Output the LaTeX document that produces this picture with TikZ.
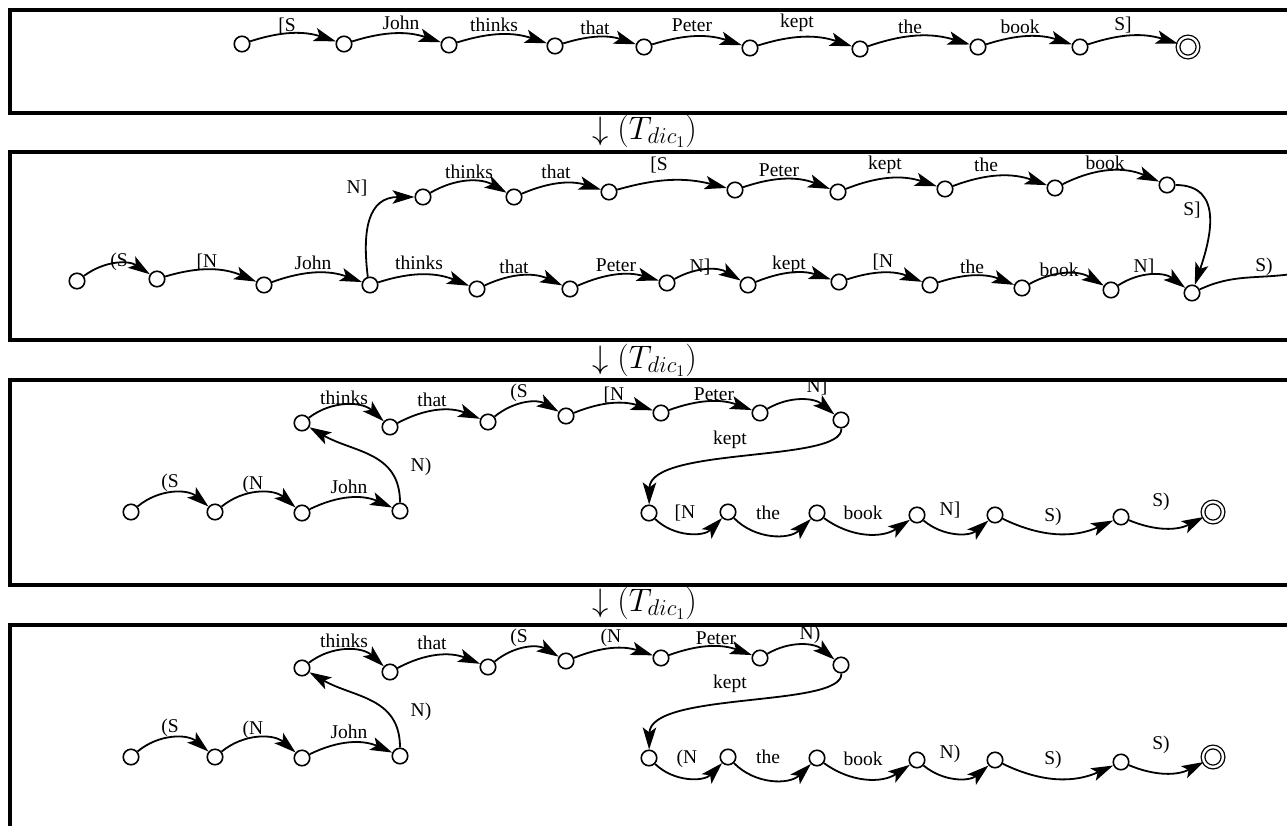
\RequirePackage{fix-cm}
\documentclass[tikz,border=0pt]{standalone}
\usepackage{fontspec}
\setmainfont{Liberation Serif}
\usetikzlibrary{arrows.meta}
\begin{document}
\begin{tikzpicture}[x=1pt,y=1pt,
  nd/.style={circle,draw,line width=1.6pt,minimum size=15.5pt,inner sep=0pt},
  endst/.style={circle,draw,line width=1.3pt,double,double distance=2.4pt,minimum size=20pt,inner sep=0pt},
  ar/.style={line width=1.8pt,-{Stealth[length=22pt,width=13.5pt,inset=5pt]}},
  ln/.style={line width=1.8pt},
  lb/.style={font=\fontsize{19.5}{22}\selectfont,inner sep=0pt},
  panel/.style={line width=3.2pt},
  trlab/.style={font=\fontsize{32.5}{38}\selectfont,inner sep=0pt,anchor=west}
]
\useasboundingbox (0,0) rectangle (1287,-825);
\clip (0,0) rectangle (1287,-825);

% ---------- frames ----------
\draw[panel] (10,-10) rectangle (1300,-113);
\draw[panel] (10,-152) rectangle (1300,-340);
\draw[panel] (10,-380) rectangle (1300,-585);
\draw[panel] (10,-625) rectangle (1300,-860);

% ---------- transformation steps ----------
\node[trlab] (s1) at (592,-131) {$\downarrow (T_{dic_1})$};
\node[trlab] (s2) at (592,-360) {$\downarrow (T_{dic_1})$};
\node[trlab] (s3) at (592,-603) {$\downarrow (T_{dic_1})$};

% ---------- automaton 1 ----------
\node[nd] (a1) at (242,-44) {};
\node[nd] (a2) at (344,-44) {};
\node[nd] (a3) at (449,-45) {};
\node[nd] (a4) at (555,-46) {};
\node[nd] (a5) at (644,-47) {};
\node[nd] (a6) at (750,-48) {};
\node[nd] (a7) at (860,-49) {};
\node[nd] (a8) at (978,-47) {};
\node[nd] (a9) at (1080,-47) {};
\node[endst] (a10) at (1188,-47) {};
\draw[ar] (a1) to[bend left=18] (a2);
\draw[ar] (a2) to[bend left=18] (a3);
\draw[ar] (a3) to[bend left=18] (a4);
\draw[ar] (a4) to[bend left=18] (a5);
\draw[ar] (a5) to[bend left=18] (a6);
\draw[ar] (a6) to[bend left=18] (a7);
\draw[ar] (a7) to[bend left=18] (a8);
\draw[ar] (a8) to[bend left=18] (a9);
\draw[ar] (a9) to[bend left=18] (a10);
\node[lb] (la1) at (287,-26) {[S};
\node[lb] (la2) at (401,-23) {John};
\node[lb] (la3) at (494,-25) {thinks};
\node[lb] (la4) at (595,-28) {that};
\node[lb] (la5) at (692,-25) {Peter};
\node[lb] (la6) at (797,-23) {kept};
\node[lb] (la7) at (910,-27) {the};
\node[lb] (la8) at (1020,-27) {book};
\node[lb] (la9) at (1123,-25) {S]};

% ---------- automaton 2 ----------
\node[nd] (q1) at (77,-281) {};
\node[nd] (q2) at (157,-279) {};
\node[nd] (q3) at (264,-285) {};
\node[nd] (q4) at (370,-285) {};
\node[nd] (q5) at (477,-289) {};
\node[nd] (q6) at (570,-289) {};
\node[nd] (q7) at (667,-283) {};
\node[nd] (q8) at (748,-285) {};
\node[nd] (q9) at (839,-282) {};
\node[nd] (q10) at (930,-285) {};
\node[nd] (q11) at (1022,-288) {};
\node[nd] (q12) at (1111,-290) {};
\node[nd] (q13) at (1192,-293) {};
\coordinate (q14) at (1292,-274);
\node[nd] (r1) at (423,-197) {};
\node[nd] (r2) at (514,-197) {};
\node[nd] (r3) at (609,-192) {};
\node[nd] (r4) at (735,-190) {};
\node[nd] (r5) at (838,-192) {};
\node[nd] (r6) at (945,-189) {};
\node[nd] (r7) at (1055,-188) {};
\node[nd] (r8) at (1167,-185) {};
\draw[ar] (q1) to[bend left=35] (q2);
\draw[ar] (q2) to[bend left=20] (q3);
\draw[ar] (q3) to[bend left=20] (q4);
\draw[ar] (q4) to[bend left=20] (q5);
\draw[ar] (q5) to[bend left=25] (q6);
\draw[ar] (q6) to[bend left=20] (q7);
\draw[ar] (q7) to[bend left=30] (q8);
\draw[ar] (q8) to[bend left=20] (q9);
\draw[ar] (q9) to[bend left=20] (q10);
\draw[ar] (q10) to[bend left=20] (q11);
\draw[ar] (q11) to[bend left=30] (q12);
\draw[ar] (q12) to[bend left=35] (q13);
\draw[ln] (q13) to[out=25,in=188] (q14);
\draw[ar] (q4.105) .. controls (362,-230) and (368,-197) .. (r1);
\draw[ar] (r1) to[bend left=30] (r2);
\draw[ar] (r2) to[bend left=20] (r3);
\draw[ar] (r3) to[bend left=15] (r4);
\draw[ar] (r4) to[bend left=20] (r5);
\draw[ar] (r5) to[bend left=20] (r6);
\draw[ar] (r6) to[bend left=20] (r7);
\draw[ar] (r7) to[bend left=25] (r8);
\draw[ar] (r8) .. controls (1225,-185) and (1210,-240) .. (q13);
\node[lb] (lq1) at (119,-262) {(S};
\node[lb] (lq2) at (207,-262) {[N};
\node[lb] (lq3) at (313,-263) {John};
\node[lb] (lq4) at (419,-263) {thinks};
\node[lb] (lq5) at (514,-267) {that};
\node[lb] (lq6) at (616,-265) {Peter};
\node[lb] (lq7) at (700,-267) {N]};
\node[lb] (lq8) at (789,-265) {kept};
\node[lb] (lq9) at (883,-262) {[N};
\node[lb] (lq10) at (972,-267) {the};
\node[lb] (lq11) at (1059,-270) {book};
\node[lb] (lq12) at (1144,-267) {N]};
\node[lb] (lq13) at (1264,-267) {S)};
\node[lb] (lr0) at (357,-188) {N]};
\node[lb] (lr1) at (469,-172) {thinks};
\node[lb] (lr2) at (556,-172) {that};
\node[lb] (lr3) at (659,-165) {[S};
\node[lb] (lr4) at (779,-170) {Peter};
\node[lb] (lr5) at (885,-165) {kept};
\node[lb] (lr6) at (986,-165) {the};
\node[lb] (lr7) at (1105,-163) {book};
\node[lb] (lr8) at (1192,-210) {S]};

% ---------- automaton 3 ----------
\node[nd] (u1) at (131,-512) {};
\node[nd] (u2) at (215,-512) {};
\node[nd] (u3) at (302,-513) {};
\node[nd] (u4) at (400,-511) {};
\node[nd] (v1) at (302,-423) {};
\node[nd] (v2) at (390,-427) {};
\node[nd] (v3) at (488,-422) {};
\node[nd] (v4) at (566,-416) {};
\node[nd] (v5) at (661,-413) {};
\node[nd] (v6) at (760,-413) {};
\node[nd] (v7) at (841,-420) {};
\node[nd] (w1) at (649,-513) {};
\node[nd] (w2) at (728,-512) {};
\node[nd] (w3) at (817,-513) {};
\node[nd] (w4) at (917,-515) {};
\node[nd] (w5) at (995,-515) {};
\node[nd] (w6) at (1121,-517) {};
\node[endst] (w7) at (1213,-512) {};
\draw[ar] (u1) to[bend left=40] (u2);
\draw[ar] (u2) to[bend left=40] (u3);
\draw[ar] (u3) to[bend left=25] (u4);
\draw[ar] (u4) to[out=90,in=-30,looseness=1.1] (v1);
\draw[ar] (v1) to[bend left=40] (v2);
\draw[ar] (v2) to[bend left=25] (v3);
\draw[ar] (v3) to[bend left=35] (v4);
\draw[ar] (v4) to[bend left=20] (v5);
\draw[ar] (v5) to[bend left=20] (v6);
\draw[ar] (v6) to[bend left=35] (v7);
\draw[ar] (v7) .. controls (843,-463) and (650,-446) .. (w1);
\draw[ar] (w1) to[bend right=45] (w2);
\draw[ar] (w2) to[bend right=45] (w3);
\draw[ar] (w3) to[bend right=35] (w4);
\draw[ar] (w4) to[bend right=40] (w5);
\draw[ar] (w5) to[bend right=25] (w6);
\draw[ar] (w6) to[bend right=25] (w7);
\node[lb] (lu1) at (170,-483) {(S};
\node[lb] (lu2) at (253,-485) {(N};
\node[lb] (lu3) at (349,-487) {John};
\node[lb] (lu4) at (421,-467) {N)};
\node[lb] (lv1) at (344,-398) {thinks};
\node[lb] (lv2) at (432,-400) {that};
\node[lb] (lv3) at (519,-393) {(S};
\node[lb] (lv4) at (614,-395) {[N};
\node[lb] (lv5) at (714,-394) {Peter};
\node[lb] (lv6) at (817,-387) {N]};
\node[lb] (lv7) at (730,-440) {kept};
\node[lb] (lw1) at (685,-513) {[N};
\node[lb] (lw2) at (768,-513) {the};
\node[lb] (lw3) at (863,-513) {book};
\node[lb] (lw4) at (950,-510) {N]};
\node[lb] (lw5) at (1053,-517) {S)};
\node[lb] (lw6) at (1161,-502) {S)};

% ---------- automaton 4 ----------
\node[nd] (x1) at (131,-757) {};
\node[nd] (x2) at (215,-757) {};
\node[nd] (x3) at (302,-758) {};
\node[nd] (x4) at (400,-756) {};
\node[nd] (y1) at (302,-668) {};
\node[nd] (y2) at (390,-672) {};
\node[nd] (y3) at (488,-667) {};
\node[nd] (y4) at (566,-661) {};
\node[nd] (y5) at (661,-658) {};
\node[nd] (y6) at (760,-658) {};
\node[nd] (y7) at (841,-665) {};
\node[nd] (z1) at (649,-758) {};
\node[nd] (z2) at (728,-757) {};
\node[nd] (z3) at (817,-758) {};
\node[nd] (z4) at (917,-760) {};
\node[nd] (z5) at (995,-760) {};
\node[nd] (z6) at (1121,-762) {};
\node[endst] (z7) at (1213,-757) {};
\draw[ar] (x1) to[bend left=40] (x2);
\draw[ar] (x2) to[bend left=40] (x3);
\draw[ar] (x3) to[bend left=25] (x4);
\draw[ar] (x4) to[out=90,in=-30,looseness=1.1] (y1);
\draw[ar] (y1) to[bend left=40] (y2);
\draw[ar] (y2) to[bend left=25] (y3);
\draw[ar] (y3) to[bend left=35] (y4);
\draw[ar] (y4) to[bend left=20] (y5);
\draw[ar] (y5) to[bend left=20] (y6);
\draw[ar] (y6) to[bend left=35] (y7);
\draw[ar] (y7) .. controls (843,-708) and (650,-691) .. (z1);
\draw[ar] (z1) to[bend right=45] (z2);
\draw[ar] (z2) to[bend right=45] (z3);
\draw[ar] (z3) to[bend right=35] (z4);
\draw[ar] (z4) to[bend right=40] (z5);
\draw[ar] (z5) to[bend right=25] (z6);
\draw[ar] (z6) to[bend right=25] (z7);
\node[lb] (lx1) at (170,-728) {(S};
\node[lb] (lx2) at (253,-730) {(N};
\node[lb] (lx3) at (349,-732) {John};
\node[lb] (lx4) at (421,-712) {N)};
\node[lb] (ly1) at (344,-641) {thinks};
\node[lb] (ly2) at (432,-643) {that};
\node[lb] (ly3) at (519,-638) {(S};
\node[lb] (ly4) at (611,-638) {(N};
\node[lb] (ly5) at (716,-638) {Peter};
\node[lb] (ly6) at (810,-635) {N)};
\node[lb] (ly7) at (730,-684) {kept};
\node[lb] (lz1) at (687,-759) {(N};
\node[lb] (lz2) at (768,-757) {the};
\node[lb] (lz3) at (863,-759) {book};
\node[lb] (lz4) at (950,-754) {N)};
\node[lb] (lz5) at (1053,-760) {S)};
\node[lb] (lz6) at (1161,-745) {S)};
\end{tikzpicture}
\end{document}
